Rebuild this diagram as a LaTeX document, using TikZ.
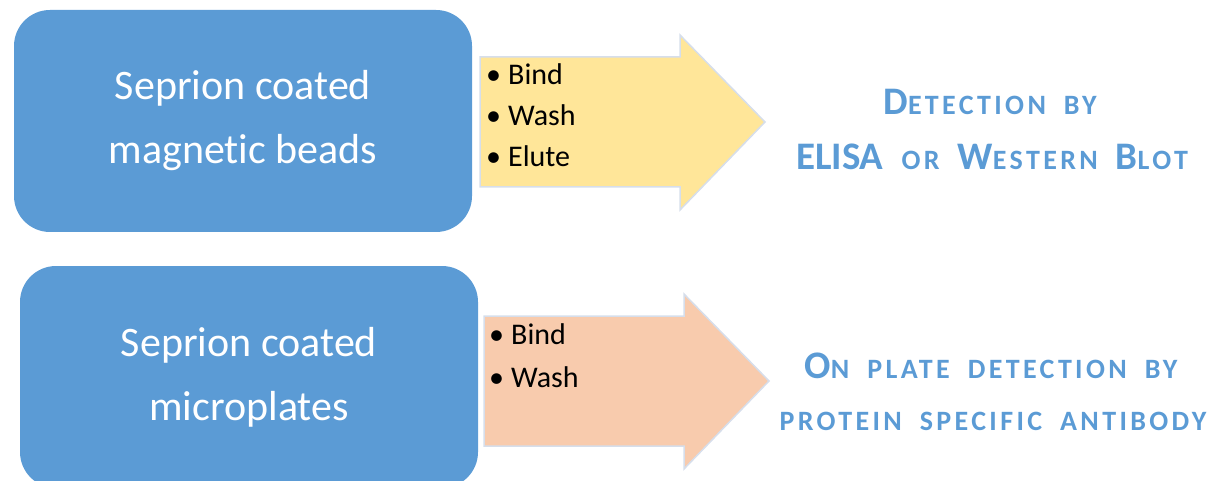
\documentclass[tikz,border=0pt]{standalone}
\usepackage{fontspec}
\setmainfont{Carlito}[Ligatures=NoCommon]
\usepackage{tikz}
\definecolor{Box}{RGB}{91,155,213}
\definecolor{Bead}{RGB}{255,230,153}
\definecolor{Plate}{RGB}{248,203,173}
\definecolor{Rim}{RGB}{214,222,235}
\newcommand{\bigc}[1]{{\fontsize{39}{39}\selectfont\addfontfeature{LetterSpace=0}#1}}
\newcommand{\gap}{\hspace{18pt}}
\newcommand{\itemline}[1]{\makebox[22pt][l]{\textbullet}#1}
\newcommand{\drawblockarrow}[3]{
  \draw[draw=Rim, line width=1.5pt, fill=#1] (#2,#3)--++(200,0)--++(0,-22)--++(85,87)--++(-85,88)--++(0,-23)--++(-200,0)--cycle;
}
\tikzset{
  seprion/.style={fill=Box, rounded corners=36pt, text=white, align=center,
    font=\fontsize{42}{64}\selectfont, minimum width=458pt, minimum height=222pt, inner sep=0pt},
  stepitem/.style={anchor=base west, inner sep=0pt, font=\fontsize{30}{30}\selectfont},
  result/.style={anchor=base, inner sep=0pt, text=Box,
    font=\fontsize{28}{28}\selectfont\bfseries\addfontfeature{LetterSpace=12}}
}

\begin{document}
\begin{tikzpicture}[x=1pt, y=-1pt]
\clip (0,0) rectangle (1213,481);
\node[seprion] (beads) at (243,121) {Seprion coated\\magnetic beads};
    \node[seprion] (plates) at (249,377) {Seprion coated\\microplates};
    \drawblockarrow{Bead}{480}{57}
    \drawblockarrow{Plate}{484}{316}
\foreach \t [count=\i] in {Bind,Wash,Elute}{
    \node[stepitem] (beadstep\i) at (486,{85+41*(\i-1)}) {\itemline{\t}};
    }
\foreach \t [count=\i] in {Bind,Wash}{
    \node[stepitem] (platestep\i) at (489,{344+43*(\i-1)}) {\itemline{\t}};
    }
\node[result] (elisa1) at (990,115) {\bigc{D}ETECTION\gap BY};
\node[result] (elisa2) at (992,170) {\bigc{ELISA}\gap OR\gap\bigc{W}ESTERN\gap\bigc{B}LOT};
\node[result] (plate1) at (991,378) {\bigc{O}N\gap PLATE\gap DETECTION\gap BY};
\node[result] (plate2) at (993,430) {PROTEIN\gap SPECIFIC\gap ANTIBODY};
\end{tikzpicture}
\end{document}
